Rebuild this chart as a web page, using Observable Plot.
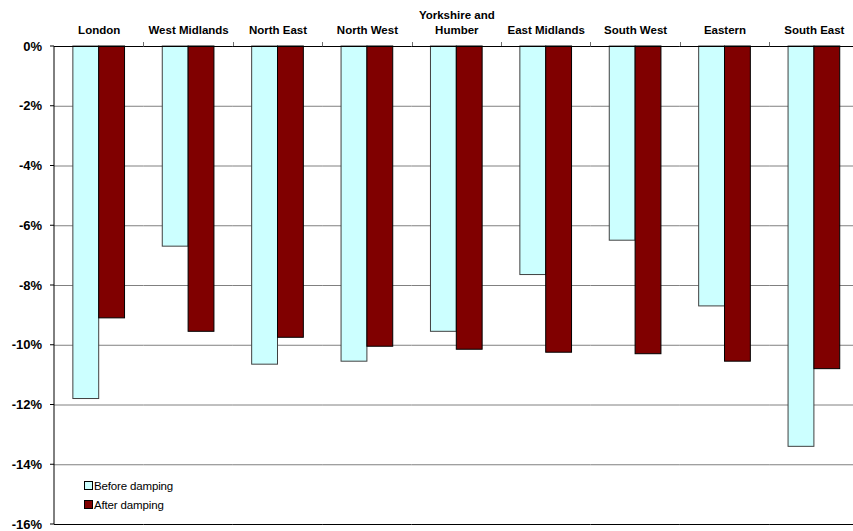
<!DOCTYPE html>
<html>
<head>
<meta charset="utf-8">
<script src="https://cdn.jsdelivr.net/npm/d3@7"></script>
<script src="https://cdn.jsdelivr.net/npm/@observablehq/plot@0.6"></script>
<style>
  html, body { margin: 0; padding: 0; background: #fff; }
  #wrap { position: relative; width: 853px; height: 531px; overflow: hidden; font-family: "Liberation Sans", Arial, sans-serif; }
  #legend { position: absolute; left: 84px; top: 476px; font-size: 11.5px; color: #000; letter-spacing: -0.15px; }
  #legend .item { display: flex; align-items: center; height: 19px; }
  #legend .sw { width: 7px; height: 7px; border: 1px solid #000; margin-right: 1px; box-sizing: content-box; }
</style>
</head>
<body>
<div id="wrap"><div id="legend"></div></div>
<script>
const regions = ["London", "West Midlands", "North East", "North West", "Yorkshire and\nHumber", "East Midlands", "South West", "Eastern", "South East"];
const seriesNames = ["Before damping", "After damping"];
const beforeDamping = [-11.8, -6.7, -10.65, -10.55, -9.55, -7.65, -6.5, -8.7, -13.4];
const afterDamping = [-9.1, -9.55, -9.75, -10.05, -10.15, -10.25, -10.3, -10.55, -10.8];
const yTicks = [0, -2, -4, -6, -8, -10, -12, -14, -16];
const colors = ["#CCFFFF", "#800000"];
const strokes = ["#404040", "#000000"];

const data = [];
regions.forEach((r, i) => {
  data.push({region: r, series: seriesNames[0], value: beforeDamping[i]});
  data.push({region: r, series: seriesNames[1], value: afterDamping[i]});
});

const plot = Plot.plot({
  width: 853,
  height: 531,
  marginLeft: 54,
  marginRight: 0,
  marginTop: 46,
  marginBottom: 7,
  style: {fontFamily: "'Liberation Sans', Arial, sans-serif", background: "#fff", overflow: "hidden"},
  fx: {domain: regions, padding: 0, round: false, axis: null, range: [54, 858.6]},
  x: {domain: seriesNames, paddingInner: 0, paddingOuter: 0.73, round: false, axis: null},
  y: {domain: [-16, 0], ticks: yTicks, axis: null},
  color: {domain: seriesNames, range: colors},
  marks: [
    Plot.ruleY(yTicks.filter(d => d !== 0 && d !== -16), {stroke: "#808080", strokeWidth: 1}),
    Plot.barY(data, {fx: "region", x: "series", y1: 0, y2: "value", fill: "series",
      stroke: d => d.series === seriesNames[0] ? strokes[0] : strokes[1], strokeWidth: 1}),
    Plot.ruleY([0, -16], {stroke: "#000", strokeWidth: 1}),
    Plot.text(regions, {fx: d => d, text: d => d, frameAnchor: "top", lineAnchor: "bottom", dy: -13, fontWeight: "bold", fontSize: 11.5, lineHeight: 1.3, fill: "#000"})
  ]
});

// axis line, y ticks and category boundary ticks from the scales
const svg = d3.select(plot);
const fx = plot.scale("fx");
const y = plot.scale("y");
const g = svg.append("g");
const left = fx.apply(regions[0]);
g.append("line").attr("x1", left).attr("x2", left).attr("y1", y.apply(0)).attr("y2", y.apply(-16)).attr("stroke", "#000");
regions.forEach((r, i) => {
  if (i === 0) return;
  const xx = Math.round(fx.apply(r)) + 0.5;
  g.append("line").attr("x1", xx).attr("x2", xx).attr("y1", y.apply(0) - 4).attr("y2", y.apply(0)).attr("stroke", "#707070");
});
yTicks.forEach(t => {
  const yy = y.apply(t);
  g.append("line").attr("x1", left - 4).attr("x2", left).attr("y1", yy).attr("y2", yy).attr("stroke", "#000");
  g.append("text").attr("x", left - 12).attr("y", yy).attr("dy", "0.35em").attr("text-anchor", "end")
    .attr("font-weight", "bold").attr("font-size", 13).attr("fill", "#000").text(`${t}%`);
});

document.getElementById("wrap").prepend(plot);
plot.style.position = "absolute"; plot.style.left = "0"; plot.style.top = "0";

const legend = document.getElementById("legend");
legend.style.zIndex = 2;
seriesNames.forEach((s, i) => {
  const item = document.createElement("div");
  item.className = "item";
  const sw = document.createElement("span");
  sw.className = "sw";
  sw.style.background = colors[i];
  item.appendChild(sw);
  item.appendChild(document.createTextNode(s));
  legend.appendChild(item);
});
</script>
</body>
</html>
